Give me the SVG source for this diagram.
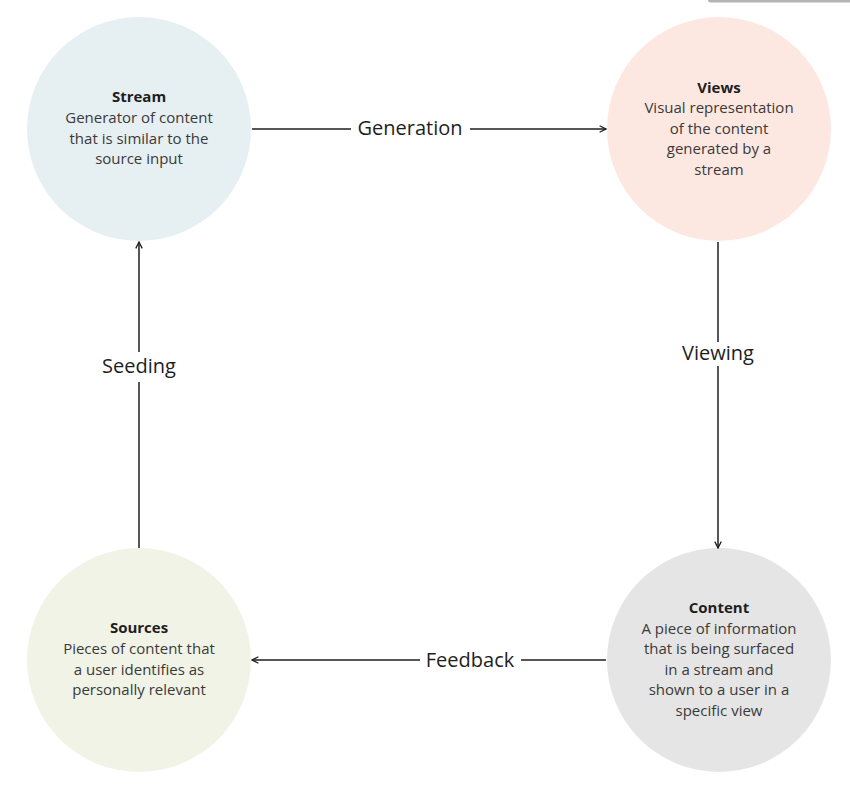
<svg xmlns="http://www.w3.org/2000/svg" width="850" height="786" viewBox="0 0 850 786">
<defs>
<style>
.t{font-family:"Open Sans","Noto Sans","Liberation Sans",sans-serif;font-size:15px;fill:#3a3a3a;text-anchor:middle}
.b{font-weight:bold;fill:#1e1e1e}
.lbl{font-family:"Open Sans","Noto Sans","Liberation Sans",sans-serif;font-size:20px;fill:#1e1e1e;text-anchor:middle}
.c{fill:none;stroke:#1e1e1e;stroke-width:1.5}
</style>
<marker id="ah" viewBox="0 0 10 10" refX="9" refY="5" markerWidth="8" markerHeight="8" markerUnits="userSpaceOnUse" orient="auto">
<path d="M1,1 L9,5 L1,9" fill="none" stroke="#1e1e1e" stroke-width="1.6"/>
</marker>
</defs>
<rect width="850" height="786" fill="#ffffff"/>
<path d="M708,0 H850 V2.5 H711 Q708,2.5 708,0 Z" fill="#b4b4b4"/>
<g id="stream">
<circle cx="139" cy="129" r="112" fill="#e6eff2"/>
<text class="t b" x="139" y="102">Stream</text>
<text class="t" x="139" y="123">Generator of content</text>
<text class="t" x="139" y="143.5">that is similar to the</text>
<text class="t" x="139" y="164">source input</text>
</g>
<g id="views">
<circle cx="719" cy="129" r="112" fill="#fde8e1"/>
<text class="t b" x="719" y="92.5">Views</text>
<text class="t" x="719" y="113">Visual representation</text>
<text class="t" x="719" y="133.5">of the content</text>
<text class="t" x="719" y="154">generated by a</text>
<text class="t" x="719" y="174.5">stream</text>
</g>
<g id="sources">
<circle cx="139" cy="660" r="112" fill="#f1f3e7"/>
<text class="t b" x="139" y="633">Sources</text>
<text class="t" x="139" y="654">Pieces of content that</text>
<text class="t" x="139" y="674.5">a user identifies as</text>
<text class="t" x="139" y="695">personally relevant</text>
</g>
<g id="content">
<circle cx="719" cy="660" r="112" fill="#e5e5e5"/>
<text class="t b" x="719" y="613">Content</text>
<text class="t" x="719" y="633.5">A piece of information</text>
<text class="t" x="719" y="654">that is being surfaced</text>
<text class="t" x="719" y="674.5">in a stream and</text>
<text class="t" x="719" y="695">shown to a user in a</text>
<text class="t" x="719" y="715.5">specific view</text>
</g>
<g id="connectors">
<path class="c" d="M252,129 H351"/>
<path class="c" d="M470,129 H606" marker-end="url(#ah)"/>
<text class="lbl" x="410" y="135">Generation</text>
<path class="c" d="M718,242 V342"/>
<path class="c" d="M718,366 V548" marker-end="url(#ah)"/>
<text class="lbl" x="718" y="360">Viewing</text>
<path class="c" d="M606,660 H521"/>
<path class="c" d="M420,660 H252" marker-end="url(#ah)"/>
<text class="lbl" x="470" y="666.5">Feedback</text>
<path class="c" d="M139,548 V382"/>
<path class="c" d="M139,352 V242" marker-end="url(#ah)"/>
<text class="lbl" x="139" y="372.5">Seeding</text>
</g>
</svg>
